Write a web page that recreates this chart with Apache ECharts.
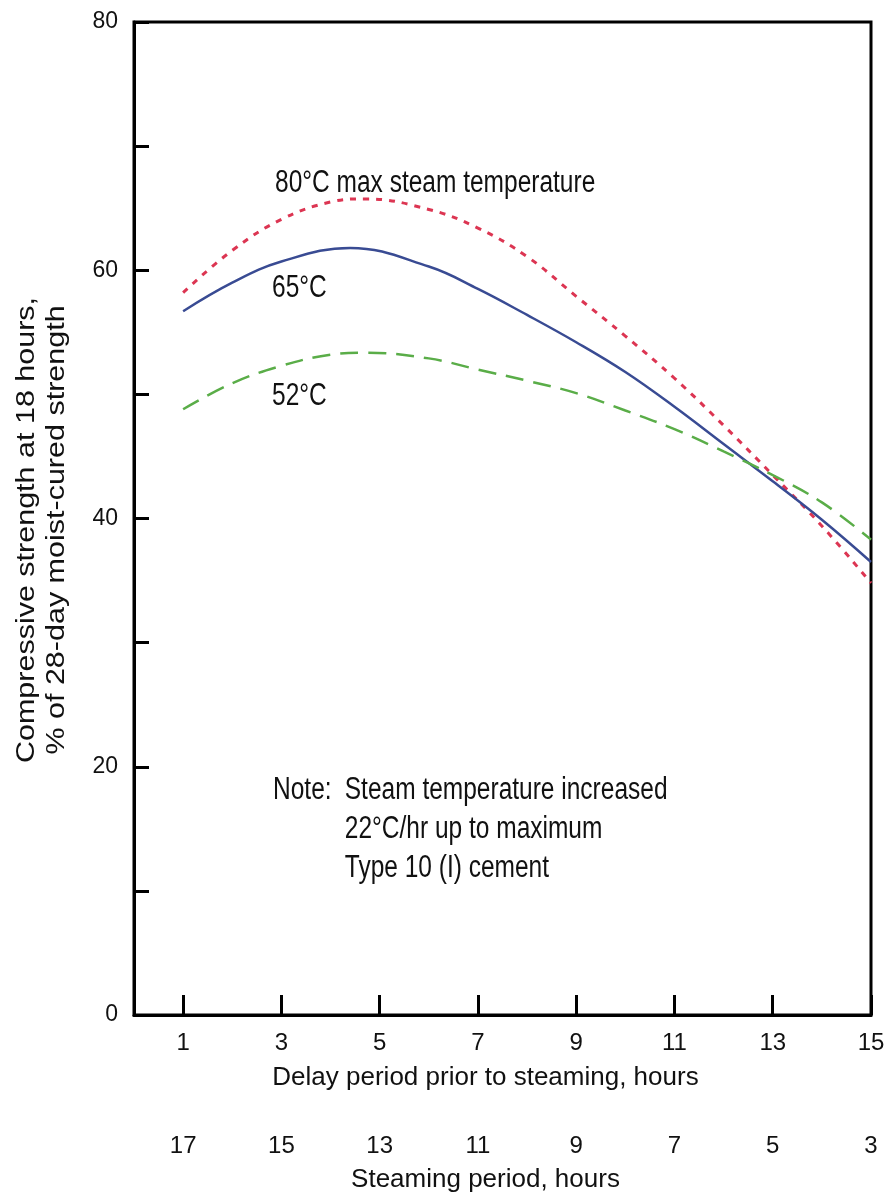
<!DOCTYPE html>
<html>
<head>
<meta charset="utf-8">
<script src="https://cdn.jsdelivr.net/npm/echarts@6/dist/echarts.min.js"></script>
<style>
  html, body { margin: 0; padding: 0; background: #fff; }
  #chart { width: 889px; height: 1198px; }
</style>
</head>
<body>
<div id="chart"></div>
<script>
// delay period prior to steaming, hours (x) and compressive strength,
// % of 28-day moist-cured strength (y)
var x80 = [1, 2, 3, 4, 4.7, 6, 7, 8, 9, 10, 11, 12, 13, 14, 15];
var s80 = [58.2, 61.6, 64.1, 65.5, 65.75, 64.9, 63.4, 61.1, 57.9, 54.7, 51.3, 47.5, 43.5, 39.4, 34.8];
var x65 = [1, 2, 3, 4.4, 6, 7, 8, 9, 10, 11, 12, 13, 14, 15];
var s65 = [56.7, 59.0, 60.7, 61.8, 60.3, 58.5, 56.4, 54.2, 51.8, 49.0, 46.0, 43.0, 39.9, 36.5];
var x52 = [1, 2, 3, 4, 4.7, 6, 7, 8, 9, 10, 11, 12, 13, 14, 15];
var s52 = [48.8, 50.9, 52.3, 53.2, 53.35, 52.9, 52.0, 51.1, 50.1, 48.7, 47.2, 45.4, 43.5, 41.3, 38.3];

var xTicks = [1, 3, 5, 7, 9, 11, 13, 15];
var yTicks = [0, 10, 20, 30, 40, 50, 60, 70, 80];
var yLabels = [0, 20, 40, 60, 80];
var totalHours = 18; // steaming period = 18 - delay

// text annotations, placed in data units
var notes = [
  { text: '80\u00b0C max steam temperature', x: 2.87, y: 67.0 },
  { text: '65\u00b0C', x: 2.81, y: 58.5 },
  { text: '52\u00b0C', x: 2.81, y: 49.8 },
  { text: 'Note:', x: 2.83, y: 18.1 },
  { text: 'Steam temperature increased', x: 4.29, y: 18.1 },
  { text: '22\u00b0C/hr up to maximum', x: 4.29, y: 14.9 },
  { text: 'Type 10 (I) cement', x: 4.29, y: 11.8 }
];
var yTitle = 'Compressive strength at 18 hours,\n% of 28-day moist-cured strength';

var FONT = '"Liberation Sans", Arial, sans-serif';
var ink = '#111';

function pairs(xs, ys) {
  var out = [];
  for (var i = 0; i < xs.length; i++) out.push([xs[i], ys[i]]);
  return out;
}

var dom = document.getElementById('chart');
var myChart = echarts.init(dom);

var option = {
  animation: false,
  backgroundColor: '#fff',
  textStyle: { fontFamily: FONT, color: ink },
  grid: {
    left: 134, right: 18, top: 22, bottom: 183,
    show: true, borderColor: '#000', borderWidth: 3
  },
  xAxis: [
    {
      type: 'value', min: 0, max: 15, position: 'bottom',
      splitLine: { show: false },
      axisLine: { lineStyle: { color: '#000', width: 3 } },
      axisTick: { inside: true, length: 20, customValues: xTicks, lineStyle: { color: '#000', width: 3 } },
      axisLabel: { customValues: xTicks, margin: 16, fontSize: 24, color: ink, fontFamily: FONT },
      name: 'Delay period prior to steaming, hours',
      nameLocation: 'middle', nameGap: 50,
      nameTextStyle: { fontSize: 26, color: ink, fontFamily: FONT, padding: [0, 34, 0, 0] }
    },
    {
      type: 'value', min: 0, max: 15, position: 'bottom', offset: 103,
      splitLine: { show: false },
      axisLine: { show: false },
      axisTick: { show: false },
      axisLabel: {
        customValues: xTicks, margin: 16, fontSize: 24, color: ink, fontFamily: FONT,
        formatter: function (v) { return String(totalHours - v); }
      },
      name: 'Steaming period, hours',
      nameLocation: 'middle', nameGap: 49,
      nameTextStyle: { fontSize: 26, color: ink, fontFamily: FONT, padding: [0, 34, 0, 0] }
    }
  ],
  yAxis: {
    type: 'value', min: 0, max: 80, interval: 10,
    splitLine: { show: false },
    axisLine: { lineStyle: { color: '#000', width: 3 } },
    axisTick: { inside: true, length: 15, customValues: yTicks, lineStyle: { color: '#000', width: 3 } },
    axisLabel: { customValues: yLabels, margin: 16, fontSize: 23, color: ink, fontFamily: FONT }
  },
  series: [
    {
      name: '80C', type: 'line', smooth: 0.4, symbol: 'none',
      data: pairs(x80, s80),
      lineStyle: { color: '#dc3552', width: 3, type: [6, 7] }
    },
    {
      name: '65C', type: 'line', smooth: 0.4, symbol: 'none',
      data: pairs(x65, s65),
      lineStyle: { color: '#394b93', width: 2.5, type: 'solid' }
    },
    {
      name: '52C', type: 'line', smooth: 0.4, symbol: 'none',
      data: pairs(x52, s52),
      lineStyle: { color: '#5aad48', width: 2.5, type: [18, 10] }
    }
  ]
};

myChart.setOption(option, true);

// annotations go where the data coordinates land
var texts = [];
for (var i = 0; i < notes.length; i++) {
  var p = myChart.convertToPixel({ gridIndex: 0 }, [notes[i].x, notes[i].y]);
  texts.push({
    type: 'text', x: p[0], y: p[1], scaleY: 1.25,
    style: {
      text: notes[i].text, fill: ink, font: '24.5px ' + FONT,
      textAlign: 'left', textVerticalAlign: 'middle'
    }
  });
}
// rotated y-axis title, stretched along its length like the source
texts.push({
  type: 'text', x: 42, y: 530, rotation: Math.PI / 2, scaleX: 1.22,
  style: {
    text: yTitle, fill: ink, font: '25px ' + FONT, lineHeight: 30,
    textAlign: 'center', textVerticalAlign: 'middle'
  }
});
myChart.setOption({ graphic: texts });
</script>
</body>
</html>
